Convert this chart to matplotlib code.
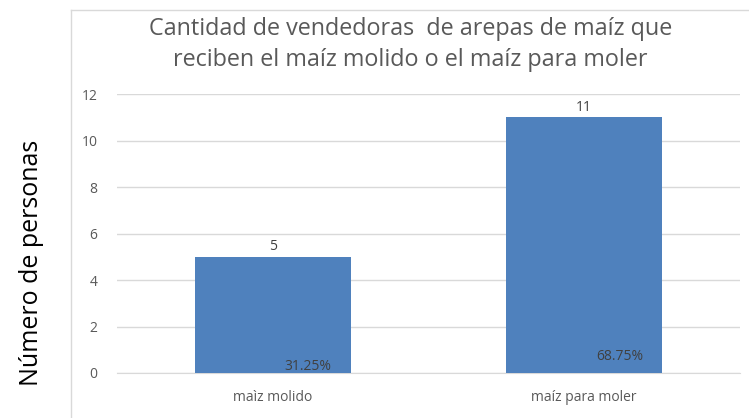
import matplotlib.pyplot as plt
from matplotlib.lines import Line2D

# datos
categorias = ['maìz molido', 'maíz para moler']
valores = [5, 11]
porcentajes = ['31.25%', '68.75%']
ticks_y = [0, 2, 4, 6, 8, 10, 12]

plt.rcParams['font.family'] = ['Open Sans', 'DejaVu Sans']

fig = plt.figure(figsize=(7.49, 4.18), dpi=100)
ax = fig.add_axes([0.156, 0.1077, 0.832, 0.667])

x = range(len(categorias))
ax.bar(x, valores, width=0.5, color='#4f81bd', zorder=3)

for i, v in enumerate(valores):
    ax.text(i, v + 0.12, str(v), ha='center', va='bottom', fontsize=10, color='#404040')

# porcentajes cerca de la base de las barras
ax.text(0.113, 0.3, porcentajes[0], ha='center', va='center', fontsize=10, color='#404040', zorder=4)
ax.text(1.115, 0.69, porcentajes[1], ha='center', va='center', fontsize=10, color='#404040', zorder=4)

ax.set_xlim(-0.5, 1.5)
ax.set_ylim(0, 12)
ax.set_yticks(ticks_y)
ax.set_xticks(list(x))
ax.set_xticklabels(categorias)
ax.tick_params(axis='both', length=0, labelsize=10, labelcolor='#595959')
ax.tick_params(axis='x', pad=12)
ax.tick_params(axis='y', pad=14)
ax.grid(axis='y', color='#d9d9d9', linewidth=1, zorder=0)
for s in ['top', 'right', 'left']:
    ax.spines[s].set_visible(False)
ax.spines['bottom'].set_color('#d9d9d9')

fig.text(0.548, 0.893, 'Cantidad de vendedoras  de arepas de maíz que\nreciben el maíz molido o el maíz para moler',
         ha='center', va='center', fontsize=16.8, color='#595959', linespacing=1.4)

fig.text(0.042, 0.372, 'Número de personas', rotation=90, ha='center', va='center', fontsize=18, color='black')

# borde del área del gráfico
fig.add_artist(Line2D([0.095, 0.095], [0.0, 0.976], color='#d9d9d9', linewidth=1))
fig.add_artist(Line2D([0.095, 1.0], [0.976, 0.976], color='#d9d9d9', linewidth=1))

fig.savefig('out.png', dpi=100)
